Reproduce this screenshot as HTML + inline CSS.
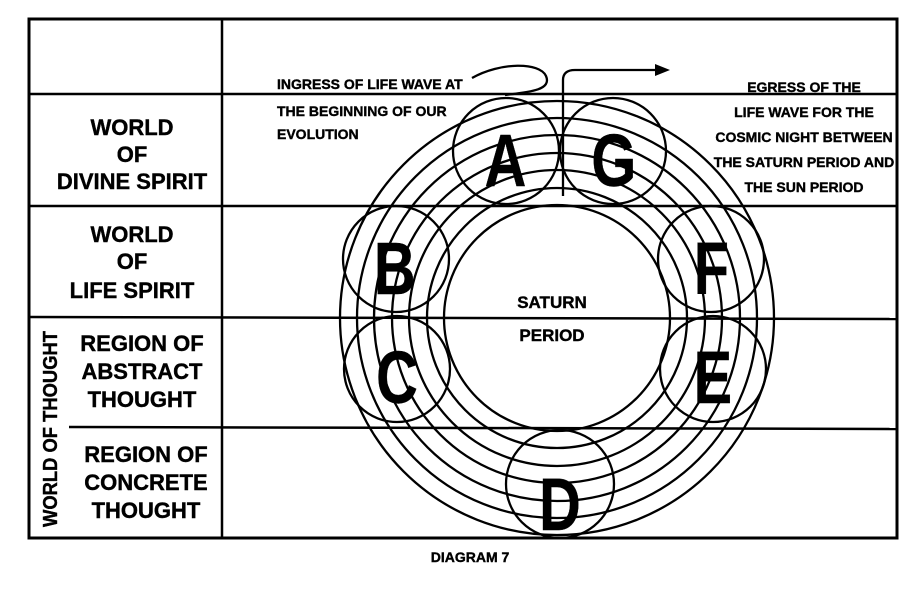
<!DOCTYPE html>
<html><head><style>
body{margin:0;background:#fff;}
svg text{font-family:"Liberation Sans",sans-serif;font-weight:bold;fill:#000;stroke:#000;stroke-width:0.4;}
</style></head><body>
<svg width="920" height="586" viewBox="0 0 920 586" xmlns="http://www.w3.org/2000/svg">
<g stroke="#000" fill="none">
<rect x="29" y="19" width="868" height="519" stroke-width="3"/>
<line x1="222" y1="19" x2="222" y2="538" stroke-width="2.5"/>
<line x1="29" y1="94" x2="897" y2="94" stroke-width="2.5"/>
<line x1="29" y1="206" x2="897" y2="206" stroke-width="2.5"/>
<line x1="29" y1="317" x2="897" y2="319" stroke-width="2.5"/>
<line x1="69" y1="427" x2="897" y2="429" stroke-width="2.5"/>
<g stroke-width="2.3">
<circle cx="557" cy="318" r="113"/>
<circle cx="557" cy="318" r="130"/>
<circle cx="557" cy="318" r="148"/>
<circle cx="557" cy="318" r="165"/>
<circle cx="557" cy="318" r="183"/>
<circle cx="557" cy="318" r="200"/>
<circle cx="557" cy="318" r="217"/>
<circle cx="506" cy="151" r="53"/>
<circle cx="613" cy="151" r="53"/>
<circle cx="396" cy="259" r="53"/>
<circle cx="711" cy="259" r="53"/>
<circle cx="397" cy="369" r="53"/>
<circle cx="713" cy="369" r="53"/>
<circle cx="560" cy="484" r="54"/>
<path d="M472 78 C500 62 540 62 546 76 C552 90 530 92 505 95"/>
<path d="M563 196 L563 80 Q563 70 575 70 L658 70"/>
</g>
</g>
<polygon points="655,64 670,70 655,76" fill="#000"/>
<g text-anchor="middle" font-size="22">
<text x="132" y="135">WORLD</text><text x="132" y="162">OF</text><text x="132" y="189">DIVINE SPIRIT</text>
<text x="132" y="242">WORLD</text><text x="132" y="269">OF</text><text x="132" y="298">LIFE SPIRIT</text>
<text x="142" y="351">REGION OF</text><text x="142" y="379">ABSTRACT</text><text x="142" y="407">THOUGHT</text>
<text x="146" y="462">REGION OF</text><text x="146" y="490">CONCRETE</text><text x="146" y="518">THOUGHT</text>
</g>
<text x="57" y="429" font-size="20" text-anchor="middle" textLength="196" lengthAdjust="spacingAndGlyphs" transform="rotate(-90 57 429)">WORLD OF THOUGHT</text>
<g font-size="14">
<text x="277" y="89">INGRESS OF LIFE WAVE AT</text>
<text x="277" y="116">THE BEGINNING OF OUR</text>
<text x="277" y="139">EVOLUTION</text>
</g>
<g font-size="14" text-anchor="middle">
<text x="804" y="92">EGRESS OF THE</text>
<text x="804" y="117">LIFE WAVE FOR THE</text>
<text x="804" y="142">COSMIC NIGHT BETWEEN</text>
<text x="804" y="167">THE SATURN PERIOD AND</text>
<text x="804" y="192">THE SUN PERIOD</text>
<text x="552" y="308" font-size="17">SATURN</text>
<text x="552" y="341" font-size="17">PERIOD</text>
</g>
<g font-size="74" font-weight="900" text-anchor="middle" transform="scale(0.78 1)" style="stroke-width:4">
<text x="648" y="186">A</text>
<text x="787" y="186">G</text>
<text x="506" y="294">B</text>
<text x="912" y="294">F</text>
<text x="509" y="403">C</text>
<text x="914" y="403">E</text>
<text x="718" y="530">D</text>
</g>
<text x="470" y="562" font-size="14" text-anchor="middle">DIAGRAM 7</text>
</svg>
</body></html>
